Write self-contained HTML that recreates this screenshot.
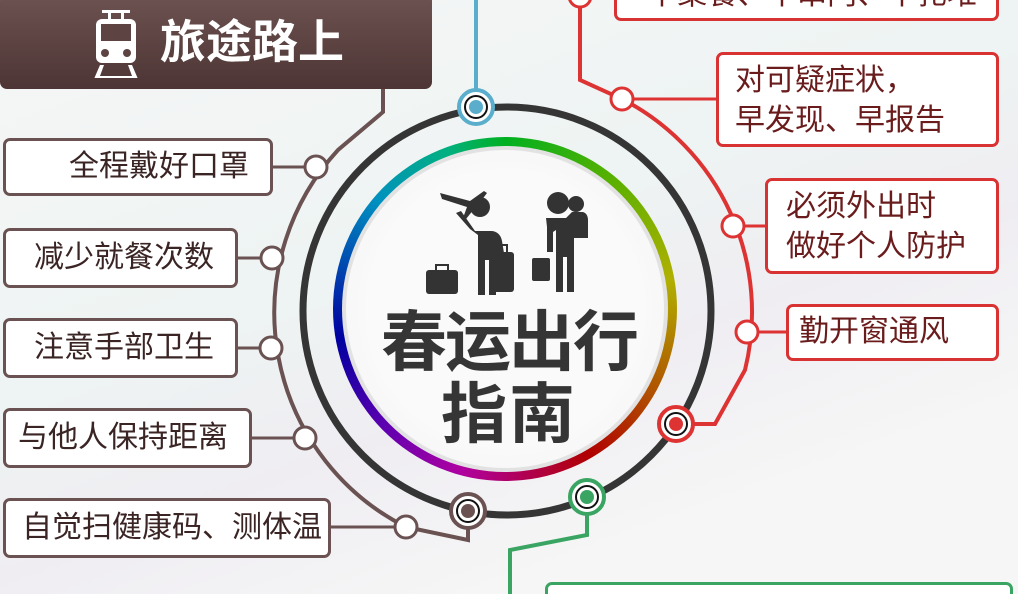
<!DOCTYPE html>
<html><head><meta charset="utf-8"><style>
html,body{margin:0;padding:0;width:1018px;height:594px;overflow:hidden;}
body{background:#f4f4f4;position:relative;font-family:"Liberation Sans","Noto Sans CJK SC",sans-serif;}
.bg{position:absolute;inset:0;background:linear-gradient(160deg,#f6f6f6 0%,#eef4f3 40%,#efedf2 60%,#f6f6f6 80%);}
.box{position:absolute;background:#fff;box-sizing:border-box;border-radius:7px;font-size:30px;line-height:40px;white-space:nowrap;}
.l{border:3px solid #6b5252;color:#3a2424;}
.r{border:3px solid #d93232;color:#6a1c1c;}
.ring{position:absolute;border-radius:50%;box-sizing:border-box;}
</style></head><body>
<div class="bg"></div>
<svg width="1018" height="594" style="position:absolute;left:0;top:0">
  <path d="M383 88 L383 112 L338 150 A240 240 0 0 0 406 527 L468 540 L468 511" fill="none" stroke="#6b5252" stroke-width="4"/>
  <line x1="272" y1="167" x2="316" y2="167" stroke="#6b5252" stroke-width="3"/>
  <line x1="237" y1="258" x2="272" y2="258" stroke="#6b5252" stroke-width="3"/>
  <line x1="237" y1="348" x2="271" y2="348" stroke="#6b5252" stroke-width="3"/>
  <line x1="251" y1="438" x2="305" y2="438" stroke="#6b5252" stroke-width="3"/>
  <line x1="330" y1="527" x2="406" y2="527" stroke="#6b5252" stroke-width="3"/>
  <path d="M580 0 L580 80 L622 99 A240 240 0 0 1 745 370 L715 424 L676 424" fill="none" stroke="#dd3333" stroke-width="4"/>
  <line x1="622" y1="99" x2="716" y2="99" stroke="#dd3333" stroke-width="3"/>
  <line x1="733" y1="226" x2="765" y2="226" stroke="#dd3333" stroke-width="3"/>
  <line x1="747" y1="332" x2="786" y2="332" stroke="#dd3333" stroke-width="3"/>
  <line x1="476" y1="0" x2="476" y2="107" stroke="#5aaecc" stroke-width="4"/>
  <path d="M587 497 L587 535 L510 550 L510 594" fill="none" stroke="#3aa562" stroke-width="4"/>
  <circle cx="507" cy="311" r="204" fill="none" stroke="#353535" stroke-width="7"/>
  <g fill="#fff" stroke="#6b5252" stroke-width="3">
    <circle cx="316" cy="167" r="11"/><circle cx="272" cy="258" r="11"/><circle cx="271" cy="348" r="11"/><circle cx="305" cy="438" r="11"/><circle cx="406" cy="527" r="11"/>
  </g>
  <g fill="#fff" stroke="#dd3333" stroke-width="3">
    <circle cx="580" cy="-4" r="11"/><circle cx="622" cy="99" r="11"/><circle cx="733" cy="226" r="11"/><circle cx="747" cy="332" r="11"/>
  </g>
  <g>
    <circle cx="476" cy="107" r="17" fill="#fff" stroke="#5aaecc" stroke-width="4"/><circle cx="476" cy="107" r="11" fill="#fff" stroke="#111" stroke-width="2"/><circle cx="476" cy="107" r="7" fill="#5aaecc"/>
    <circle cx="676" cy="424" r="17" fill="#fff" stroke="#dd3333" stroke-width="4"/><circle cx="676" cy="424" r="11" fill="#fff" stroke="#111" stroke-width="2"/><circle cx="676" cy="424" r="7" fill="#dd3333"/>
    <circle cx="587" cy="497" r="17" fill="#fff" stroke="#3aa562" stroke-width="4"/><circle cx="587" cy="497" r="11" fill="#fff" stroke="#111" stroke-width="2"/><circle cx="587" cy="497" r="7" fill="#3aa562"/>
    <circle cx="468" cy="511" r="17" fill="#fff" stroke="#6b5252" stroke-width="4"/><circle cx="468" cy="511" r="11" fill="#fff" stroke="#111" stroke-width="2"/><circle cx="468" cy="511" r="7" fill="#6b5252"/>
  </g>
</svg>
<div class="ring" style="left:333px;top:137px;width:344px;height:344px;background:conic-gradient(#00b020 0deg,#5ab000 40deg,#b0b000 80deg,#b05000 120deg,#b00000 150deg,#b000a0 195deg,#6000b0 225deg,#0000a0 260deg,#0090c0 310deg,#00b080 340deg,#00b020 360deg);"></div>
<div class="ring" style="left:342px;top:146px;width:326px;height:326px;background:#e2e2e2;"></div>
<div class="ring" style="left:346px;top:150px;width:318px;height:318px;background:radial-gradient(circle,#fafafa 60%,#f0f0f0 100%);"></div>
<svg width="1018" height="594" style="position:absolute;left:0;top:0" fill="#333">
  <path d="M440 193 l30 8 l14 -10 l3 2 l-9 12 l8 3 l-2 3 l-10 -2 l-8 10 l-3 -1 l4 -11 l-25 -8z"/>
  <circle cx="480" cy="207" r="10"/>
  <path d="M456 213 l5 -2 l14 20 h16 c6 0 10 4 11 10 l3 18 h-6 l-3 -14 v50 h-7 v-35 h-4 v35 h-7 v-60 l-8 -6z"/>
  <rect x="490" y="252" width="24" height="40" rx="3"/><rect x="497" y="245" width="10" height="8" fill="none" stroke="#333" stroke-width="2"/>
  <rect x="426" y="270" width="32" height="24" rx="3"/><rect x="436" y="265" width="12" height="7" fill="none" stroke="#333" stroke-width="2"/>
  <circle cx="558" cy="203" r="11"/><circle cx="576" cy="204" r="8"/>
  <path d="M546 218 h20 l6 -6 h10 c4 0 6 4 6 8 v18 h-14 v54 h-7 v-35 h-4 v35 h-7 v-62 l-3 2 v20 h-6 v-25z"/>
  <rect x="532" y="258" width="18" height="23" rx="2"/>
</svg>
<div style="position:absolute;left:364px;top:306px;width:290px;text-align:center;font-size:66px;font-weight:bold;color:#353535;line-height:72px;letter-spacing:-2px;">春运出行</div>
<div style="position:absolute;left:364px;top:378px;width:290px;text-align:center;font-size:66px;font-weight:bold;color:#353535;line-height:72px;letter-spacing:2px;">指南</div>
<div style="position:absolute;left:0;top:-6px;width:432px;height:95px;border-radius:7px;background:linear-gradient(#6d5351,#4d3535);"></div>
<svg width="60" height="70" style="position:absolute;left:92px;top:8px" fill="#fff">
  <rect x="10" y="2" width="28" height="3"/><rect x="16" y="5" width="3" height="6"/><rect x="29" y="5" width="3" height="6"/>
  <rect x="4" y="11" width="40" height="44" rx="6"/>
  <rect x="9" y="16" width="30" height="17" fill="#5d4443"/>
  <circle cx="13" cy="45" r="4" fill="#5d4443"/><circle cx="35" cy="45" r="4" fill="#5d4443"/>
  <path d="M8 57 h4 l-4 11 h32 l-4 -11 h4 l6 14 h-44z"/>
</svg>
<div style="position:absolute;left:160px;top:14px;font-size:46px;font-weight:bold;color:#fff;line-height:56px;">旅途路上</div>
<div class="box l" style="left:3px;top:138px;width:270px;height:58px;padding-left:63px;padding-top:6px">全程戴好口罩</div>
<div class="box l" style="left:3px;top:228px;width:235px;height:60px;padding-left:28px;padding-top:7px">减少就餐次数</div>
<div class="box l" style="left:3px;top:318px;width:235px;height:60px;padding-left:28px;padding-top:7px">注意手部卫生</div>
<div class="box l" style="left:3px;top:408px;width:249px;height:60px;padding-left:12px;padding-top:7px">与他人保持距离</div>
<div class="box l" style="left:3px;top:498px;width:328px;height:60px;padding-left:16px;padding-top:7px">自觉扫健康码、测体温</div>
<div class="box r" style="left:614px;top:-40px;width:385px;height:61px;padding-left:30px;padding-top:12px">不聚餐、不串门、不扎堆</div>
<div class="box r" style="left:716px;top:52px;width:283px;height:95px;padding-left:16px;padding-top:6px;line-height:40px">对可疑症状，<br>早发现、早报告</div>
<div class="box r" style="left:765px;top:178px;width:234px;height:96px;padding-left:18px;padding-top:6px;line-height:40px">必须外出时<br>做好个人防护</div>
<div class="box r" style="left:786px;top:304px;width:213px;height:57px;padding-left:10px;padding-top:5px">勤开窗通风</div>
<div class="box" style="left:545px;top:582px;width:468px;height:40px;border:3px solid #3aa562;"></div>
</body></html>
